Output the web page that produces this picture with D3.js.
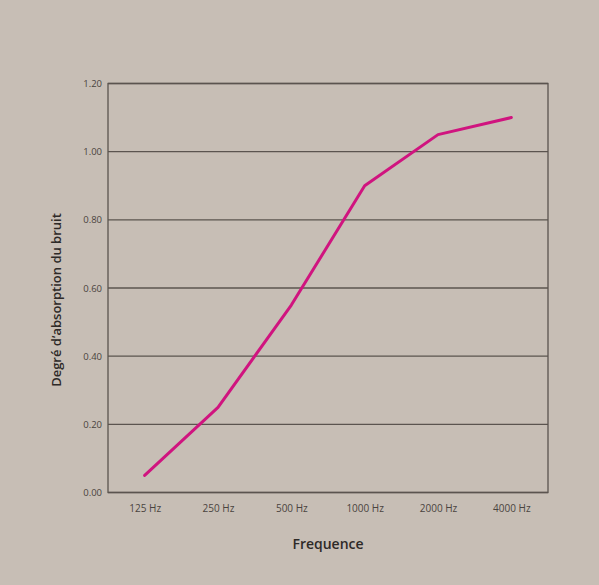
<!DOCTYPE html>
<html><head><meta charset="utf-8">
<script src="https://cdn.jsdelivr.net/npm/d3@7"></script>
<style>
html,body{margin:0;padding:0;background:#c7beb5;}
svg{display:block;}
text{font-family:"Open Sans","Noto Sans",sans-serif;}
</style></head>
<body>
<svg id="chart" width="599" height="585"></svg>
<script>
const categories = ["125 Hz","250 Hz","500 Hz","1000 Hz","2000 Hz","4000 Hz"];
const values = [0.05, 0.25, 0.55, 0.90, 1.05, 1.10];
const yTicks = [0, 0.2, 0.4, 0.6, 0.8, 1.0, 1.2];
const xTitle = "Frequence";
const yTitle = "Degré d’absorption du bruit";

const svg = d3.select("#chart");
const W = 599, H = 585;
const m = {left:108, right:51, top:83.5, bottom:92.5};
const pw = W - m.left - m.right, ph = H - m.top - m.bottom;

svg.append("rect").attr("width",W).attr("height",H).attr("fill","#c7beb5");

const x = d3.scalePoint().domain(categories).range([0,pw]).padding(0.5);
const y = d3.scaleLinear().domain([0,1.2]).range([ph,0]);

const g = svg.append("g").attr("transform",`translate(${m.left},${m.top})`);

// grid lines
g.selectAll(".grid").data(yTicks).join("line")
  .attr("x1",0).attr("x2",pw)
  .attr("y1",d=>y(d)).attr("y2",d=>y(d))
  .attr("stroke","#5b544f").attr("stroke-width",1.3);
// frame
g.append("rect").attr("x",0).attr("y",0).attr("width",pw).attr("height",ph)
  .attr("fill","none").attr("stroke","#5b544f").attr("stroke-width",1.3);

// y axis labels
const yAxis = d3.axisLeft(y).tickValues(yTicks).tickFormat(d3.format(".2f")).tickSize(0).tickPadding(6);
const ya = g.append("g").call(yAxis);
ya.select(".domain").remove();
ya.selectAll("text").attr("font-size",9.5).attr("fill","#4a4440");

// x axis labels
const xAxis = d3.axisBottom(x).tickSize(0).tickPadding(12);
const xa = g.append("g").attr("transform",`translate(0,${ph})`).call(xAxis);
xa.select(".domain").remove();
xa.selectAll("text").attr("font-size",10).attr("fill","#4a4440");

// line
const line = d3.line().x((d,i)=>x(categories[i])).y(d=>y(d));
g.append("path").datum(values).attr("d",line)
  .attr("fill","none").attr("stroke","#d0147f").attr("stroke-width",3)
  .attr("stroke-linejoin","round").attr("stroke-linecap","round");

// titles
svg.append("text").attr("x",m.left+pw/2).attr("y",549).attr("text-anchor","middle")
  .attr("font-size",14).attr("font-weight",600).attr("fill","#2e2a28").text(xTitle);
svg.append("text").attr("transform",`translate(61,${m.top+ph/2+12}) rotate(-90)`)
  .attr("text-anchor","middle").attr("font-size",13).attr("font-weight",600)
  .attr("fill","#2e2a28").text(yTitle);
</script>
</body></html>
